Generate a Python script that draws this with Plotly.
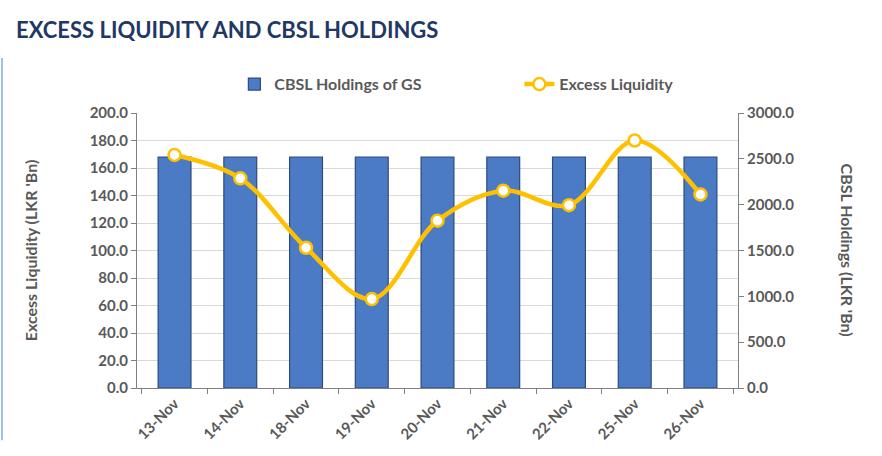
import plotly.graph_objects as go

dates = ["13-Nov", "14-Nov", "18-Nov", "19-Nov", "20-Nov", "21-Nov", "22-Nov", "25-Nov", "26-Nov"]
cbsl_holdings = [2520, 2520, 2520, 2520, 2520, 2520, 2520, 2520, 2520]
excess_liquidity = [169.5, 152.5, 102.0, 64.7, 121.7, 143.5, 133.0, 180.0, 140.8]

FONT = "Lato"
GRAY = "#595959"

fig = go.Figure()
fig.add_trace(go.Bar(
    x=dates, y=cbsl_holdings, name="CBSL Holdings of GS",
    marker=dict(color="#4C7BC6", line=dict(color="#2C4A80", width=1.2)),
    width=0.5, yaxis="y",
))
fig.add_trace(go.Scatter(
    x=dates, y=excess_liquidity, name="Excess Liquidity", yaxis="y2",
    mode="lines+markers",
    line=dict(color="#FFC000", width=4.5, shape="spline", smoothing=1.0),
    marker=dict(size=12, color="white", line=dict(color="#FFC000", width=2.5)),
))

tickfont = dict(family=FONT, size=15, color=GRAY, weight="bold")
fig.update_layout(
    width=882, height=456,
    margin=dict(l=137, r=144, t=113, b=68, autoexpand=False),
    paper_bgcolor="white", plot_bgcolor="white",
    font=dict(family=FONT, color=GRAY),
    showlegend=True,
    legend=dict(orientation="h", x=0.162, xanchor="left", y=1.105, yanchor="middle",
                font=dict(family=FONT, size=16, color=GRAY, weight="bold"),
                entrywidth=240, entrywidthmode="pixels", traceorder="normal",
                itemwidth=30),
    xaxis=dict(showline=True, linecolor="#808080", linewidth=1, ticks="outside",
               tickson="boundaries", ticklen=5, tickcolor="#808080",
               tickangle=-45, tickfont=tickfont, showgrid=False, automargin=False),
    yaxis=dict(side="right", range=[0, 3000], dtick=500, tickformat=".1f",
               showline=True, linecolor="#808080", ticks="outside", ticklen=5,
               tickcolor="#808080", tickfont=tickfont, showgrid=False, zeroline=False,
               automargin=False),
    yaxis2=dict(side="left", overlaying="y", range=[0, 200], dtick=20, tickformat=".1f",
                showline=True, linecolor="#808080", ticks="outside", ticklen=5,
                tickcolor="#808080", tickfont=tickfont, showgrid=True,
                gridcolor="#D9D9D9", gridwidth=1, zeroline=False, automargin=False),
    annotations=[
        dict(text="<b>EXCESS LIQUIDITY AND CBSL HOLDINGS</b>", xref="paper", yref="paper",
             x=-0.205, y=1.302, xanchor="left", yanchor="middle", showarrow=False,
             font=dict(family=FONT, size=22, color="#1F3864")),
        dict(text="<b>Excess Liquidity (LKR 'Bn)</b>", xref="paper", yref="paper",
             x=-0.196, y=0.5, textangle=-90, showarrow=False,
             font=dict(family=FONT, size=16, color=GRAY)),
        dict(text="<b>CBSL Holdings (LKR 'Bn)</b>", xref="paper", yref="paper",
             x=1.202, y=0.5, textangle=90, showarrow=False,
             font=dict(family=FONT, size=16, color=GRAY)),
    ],
    shapes=[
        dict(type="line", xref="paper", yref="paper", x0=-0.2246, x1=-0.2246,
             y0=-0.19, y1=1.2, line=dict(color="#9DC3E6", width=2)),
    ],
)
fig.write_html("out.html", config={"displayModeBar": False},
               post_script="document.body.style.margin='0';document.body.style.padding='0';")
